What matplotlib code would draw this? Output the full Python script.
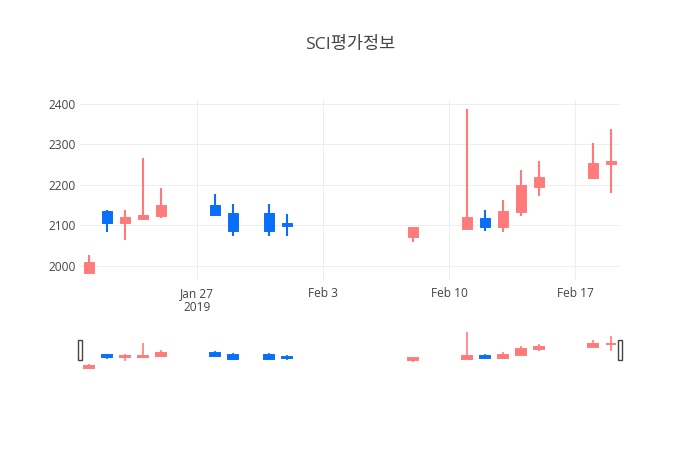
import matplotlib
matplotlib.use("Agg")
import matplotlib.pyplot as plt
import matplotlib.dates as mdates
from matplotlib.patches import Rectangle
import pandas as pd

# daily prices
dates = pd.to_datetime([
    "2019-01-21", "2019-01-22", "2019-01-23", "2019-01-24", "2019-01-25",
    "2019-01-28", "2019-01-29", "2019-01-31", "2019-02-01",
    "2019-02-08", "2019-02-11", "2019-02-12", "2019-02-13", "2019-02-14",
    "2019-02-15", "2019-02-18", "2019-02-19",
])
opens  = [1983, 2136, 2107, 2115, 2122, 2151, 2130, 2130, 2105, 2072, 2091, 2119, 2096, 2132, 2196, 2217, 2252]
highs  = [2027, 2138, 2138, 2267, 2192, 2178, 2153, 2153, 2128, 2096, 2387, 2138, 2163, 2237, 2258, 2303, 2338]
lows   = [1983, 2084, 2064, 2113, 2118, 2126, 2074, 2074, 2074, 2058, 2091, 2085, 2083, 2123, 2173, 2217, 2179]
closes = [2010, 2107, 2121, 2125, 2150, 2126, 2085, 2086, 2098, 2096, 2120, 2097, 2135, 2199, 2219, 2255, 2259]

xtick_dates = pd.to_datetime(["2019-01-27", "2019-02-03", "2019-02-10", "2019-02-17"])
xtick_labels = ["Jan 27\n2019", "Feb 3", "Feb 10", "Feb 17"]
yticks = [2000, 2100, 2200, 2300, 2400]

up_col = "#ff7b7b"
down_col = "#0a6ff7"
txt = "#444444"
fonts = ["Open Sans", "Noto Sans CJK KR", "DejaVu Sans"]
plt.rcParams["font.family"] = fonts

W, H = 700, 450
fig = plt.figure(figsize=(7, 4.5), dpi=100)
fig.patch.set_facecolor("white")

ax = fig.add_axes([80 / W, (H - 280) / H, 540 / W, 180 / H])
sl = fig.add_axes([80 / W, (H - 370) / H, 540 / W, 40 / H])

xd = mdates.date2num(dates)
cols = [up_col if c >= o else down_col for o, c in zip(opens, closes)]
bottoms = [min(o, c) for o, c in zip(opens, closes)]
heights = [abs(c - o) for o, c in zip(opens, closes)]


def candles(a, wick_w, edge_w):
    a.vlines(xd, lows, highs, colors=cols, linewidth=wick_w, zorder=2)
    a.bar(xd, heights, width=0.6, bottom=bottoms, color=cols,
          edgecolor=cols, linewidth=edge_w, zorder=3)


candles(ax, 1.5, 0.7)
candles(sl, 1.2, 1.4)

xlim = (xd[0] - 0.5, xd[-1] + 0.5)
for a in (ax, sl):
    a.set_xlim(*xlim)
    a.set_ylim(1965, 2410)
    for s in a.spines.values():
        s.set_visible(False)

ax.set_yticks(yticks)
ax.set_yticklabels([str(v) for v in yticks])
ax.set_xticks(mdates.date2num(xtick_dates))
ax.set_xticklabels(xtick_labels, linespacing=1.15)
ax.grid(True, color="#eeeeee", linewidth=0.72)
ax.set_axisbelow(True)
ax.tick_params(axis="both", length=0, labelsize=8.6, colors=txt)
ax.tick_params(axis="y", pad=3)
ax.tick_params(axis="x", pad=5)

sl.set_xticks([])
sl.set_yticks([])

# range slider handles
for xa in (0, 1):
    sl.add_patch(Rectangle((xa - 2 / 540, 0.25), 4 / 540, 0.5,
                           transform=sl.transAxes, facecolor="white",
                           edgecolor="#444444", linewidth=1,
                           clip_on=False, zorder=5))

fig.text(0.5, 1 - 45 / H, "SCI평가정보", ha="center", va="center",
         fontsize=12.6, color=txt, family=fonts)

fig.savefig("out.png", dpi=100)
